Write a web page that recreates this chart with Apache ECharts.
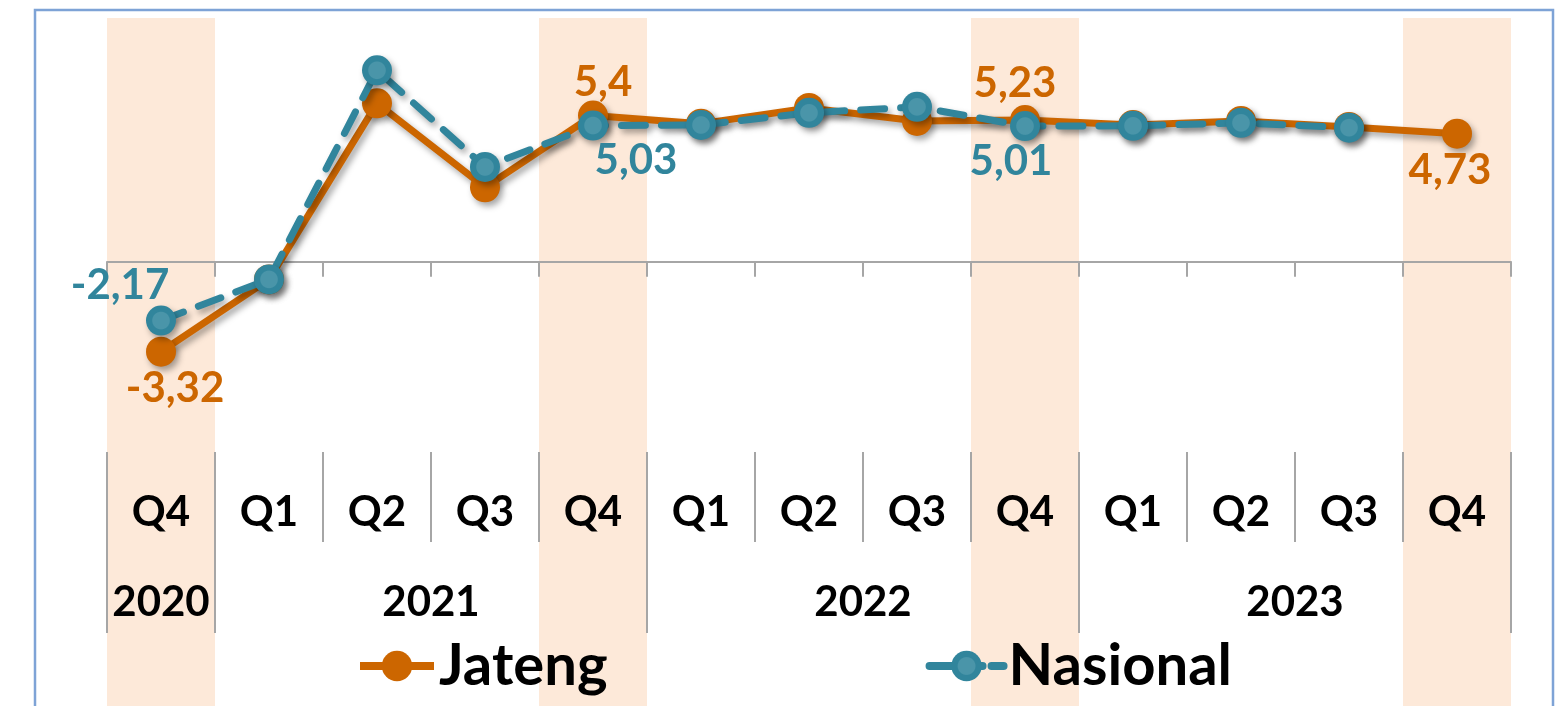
<!DOCTYPE html>
<html>
<head>
<meta charset="utf-8">
<script src="https://cdn.jsdelivr.net/npm/echarts@6/dist/echarts.min.js"></script>
<style>
  html, body { margin: 0; padding: 0; background: #fff; }
  #chart { width: 1556px; height: 706px; }
</style>
</head>
<body>
<div id="chart"></div>
<script>
// data
const quarters = ['Q4', 'Q1', 'Q2', 'Q3', 'Q4', 'Q1', 'Q2', 'Q3', 'Q4', 'Q1', 'Q2', 'Q3', 'Q4']
const years = ['2020', '2021', '2022', '2023']
const yearSpan = [1, 4, 4, 4]
const jateng = [-3.32, -0.65, 5.85, 2.75, 5.4, 5.1, 5.68, 5.2, 5.23, 5.05, 5.2, 4.98, 4.73]
const nasional = [-2.17, -0.65, 7.07, 3.5, 5.03, 5.05, 5.5, 5.72, 5.01, 5.02, 5.13, 4.95, null]
const highlight = [1, 0, 0, 0, 1, 0, 0, 0, 1, 0, 0, 0, 1]

const ORANGE = '#CC6600'
const TEAL = '#31859C'
const FONT = 'Lato'

// year boundaries / centres from the spans
const yearEdges = [0]
yearSpan.forEach(s => yearEdges.push(yearEdges[yearEdges.length - 1] + s))
const yearCenters = {}
years.forEach((y, i) => { yearCenters[(yearEdges[i] + yearEdges[i + 1]) / 2] = y })

const fmt = v => String(v).replace('.', ',')

// which points carry a value label, and where
const jatengLabels = {
  0: {position: 'bottom', offset: [14, -4]},
  4: {position: 'top', offset: [10, 8]},
  8: {position: 'top', offset: [-10, 4]},
  12: {position: 'bottom', offset: [-7, -4]}
}
const nasionalLabels = {
  0: {position: 'top', offset: [-41, 6]},
  4: {position: 'bottom', offset: [43, -6]},
  8: {position: 'bottom', offset: [-14, -6]}
}

const labelStyle = color => ({
  show: true,
  color: color,
  fontFamily: FONT,
  fontWeight: 'bold',
  fontSize: 42,
  formatter: p => fmt(p.value)
})

const buildData = (vals, labels, color) => vals.map((v, i) => {
  if (labels[i] && v != null) {
    return {value: v, label: Object.assign(labelStyle(color), labels[i])}
  }
  return v
})

const shadow = {
  shadowColor: 'rgba(0,0,0,0.35)',
  shadowBlur: 6,
  shadowOffsetX: 3,
  shadowOffsetY: 4
}

const gridLR = {left: 107, right: 45}
const axisFont = {color: '#000', fontFamily: FONT, fontWeight: 'bold', fontSize: 42}

const option = {
  animation: false,
  grid: [
    Object.assign({top: 18, bottom: 0}, gridLR),          // plot
    Object.assign({top: 452, height: 90}, gridLR),        // quarter row
    Object.assign({top: 542, height: 91}, gridLR),        // year row
    Object.assign({top: 18, bottom: 0}, gridLR)           // highlight bands
  ],
  xAxis: [
    {
      gridIndex: 0, type: 'category', data: quarters, z: 1,
      axisLine: {onZero: true, lineStyle: {color: '#A6A6A6', width: 2}},
      axisTick: {show: true, length: 15, lineStyle: {color: '#A6A6A6', width: 2}},
      axisLabel: {show: false}
    },
    {
      gridIndex: 1, type: 'category', data: quarters, position: 'top', z: 1,
      axisLine: {show: false}, axisTick: {show: false},
      splitLine: {show: true, lineStyle: {color: '#A6A6A6', width: 2}},
      axisLabel: Object.assign({inside: true, margin: 60, verticalAlign: 'middle', interval: 0}, axisFont)
    },
    {
      gridIndex: 2, type: 'category', data: quarters, position: 'top', z: 1,
      axisLine: {show: false}, axisTick: {show: false}, axisLabel: {show: false},
      splitLine: {
        show: true,
        interval: idx => yearEdges.indexOf(idx) >= 0,
        lineStyle: {color: '#A6A6A6', width: 2}
      }
    },
    {
      gridIndex: 2, type: 'value', min: 0, max: quarters.length, interval: 0.5, position: 'top', z: 1,
      axisLine: {show: false}, axisTick: {show: false}, splitLine: {show: false},
      axisLabel: Object.assign({
        inside: true, margin: 60, verticalAlign: 'middle',
        showMinLabel: false, showMaxLabel: false,
        formatter: v => yearCenters[v] || ''
      }, axisFont)
    },
    {
      gridIndex: 3, type: 'category', data: quarters, show: false
    }
  ],
  yAxis: [
    {gridIndex: 0, type: 'value', min: -16.4, max: 9, show: false},
    {gridIndex: 1, type: 'value', show: false},
    {gridIndex: 2, type: 'value', show: false},
    {gridIndex: 3, type: 'value', min: 0, max: 1, show: false}
  ],
  legend: {
    data: [
      {name: 'Jateng', lineStyle: {width: 8, type: 'solid'}},
      {name: 'Nasional', lineStyle: {width: 8, type: [22, 9]}}
    ],
    left: 351,
    top: 632,
    itemWidth: 74,
    itemHeight: 38,
    itemGap: 318,
    textStyle: {color: '#000', fontFamily: FONT, fontWeight: 'bold', fontSize: 58}
  },
  graphic: [
    {
      type: 'rect', z: 10,
      shape: {x: 35, y: 10, width: 1518, height: 740},
      style: {fill: 'none', stroke: '#7EA3D6', lineWidth: 2.5}
    }
  ],
  series: [
    {
      type: 'bar', xAxisIndex: 4, yAxisIndex: 3, z: 0,
      data: highlight.map(h => h ? 1 : null),
      barWidth: '100%', barGap: '-100%',
      itemStyle: {color: '#FDE9D9'},
      silent: true
    },
    {
      name: 'Nasional', type: 'line', xAxisIndex: 0, yAxisIndex: 0, z: 3,
      data: buildData(nasional, nasionalLabels, TEAL),
      symbol: 'circle', symbolSize: 30,
      lineStyle: Object.assign({color: TEAL, width: 7, type: [24, 16], cap: 'round'}, shadow),
      itemStyle: Object.assign({
        color: {
          type: 'radial', x: 0.5, y: 0.5, r: 0.5,
          colorStops: [
            {offset: 0, color: '#4A95A9'}, {offset: 0.55, color: '#4A95A9'},
            {offset: 0.62, color: TEAL}, {offset: 1, color: TEAL}
          ]
        }
      }, shadow)
    },
    {
      name: 'Jateng', type: 'line', xAxisIndex: 0, yAxisIndex: 0, z: 2,
      data: buildData(jateng, jatengLabels, ORANGE),
      symbol: 'circle', symbolSize: 30,
      lineStyle: Object.assign({color: ORANGE, width: 7}, shadow),
      itemStyle: Object.assign({color: ORANGE}, shadow)
    }
  ]
}

const chart = echarts.init(document.getElementById('chart'))
chart.setOption(option)
</script>
</body>
</html>
